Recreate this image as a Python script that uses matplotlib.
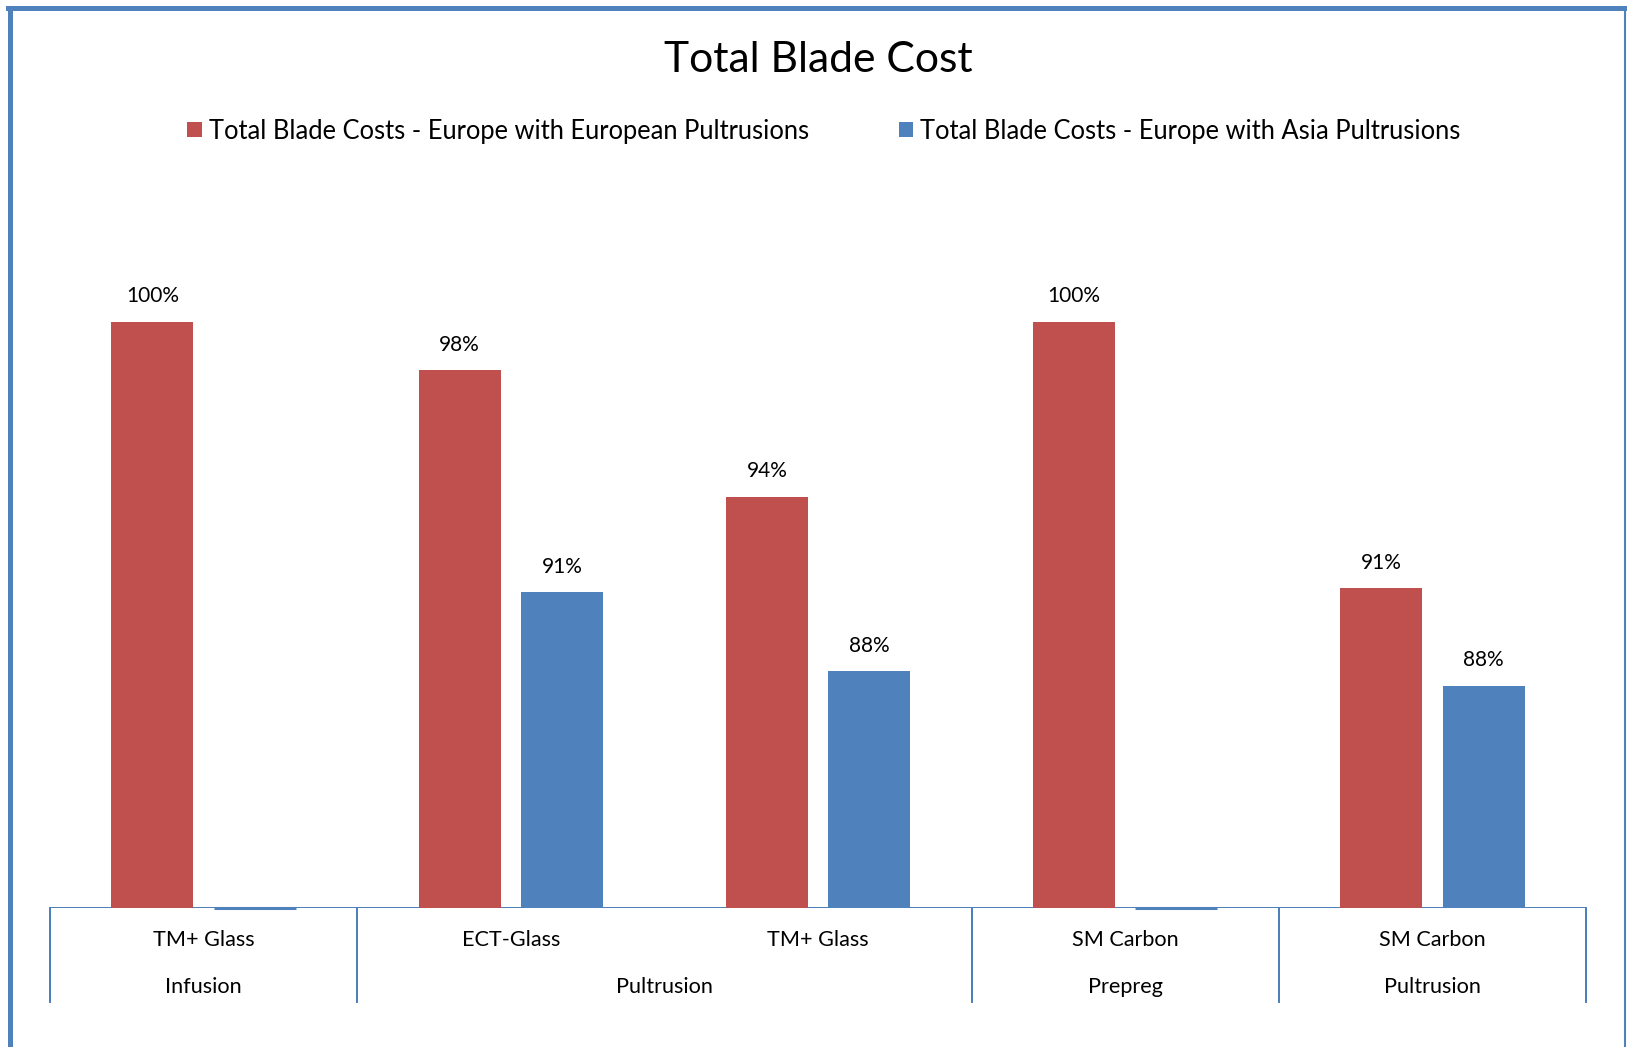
import matplotlib
matplotlib.use("Agg")
import matplotlib.pyplot as plt
from matplotlib.patches import Patch
from matplotlib.lines import Line2D
import numpy as np

categories = ["TM+ Glass", "ECT-Glass", "TM+ Glass", "SM Carbon", "SM Carbon"]
groups = ["Infusion", "Pultrusion", "Prepreg", "Pultrusion"]
group_spans = [(0, 0), (1, 2), (3, 3), (4, 4)]
series_names = ["Total Blade Costs - Europe with European Pultrusions",
                "Total Blade Costs - Europe with Asia Pultrusions"]
europe = [100.0, 98.35, 94.03, 100.0, 90.91]
asia = [0.0, 90.77, 88.08, 0.0, 87.58]

RED = "#C0504D"
BLUE = "#4F81BD"
AX_BLUE = "#4A7EBB"
FONT = ["Lato", "DejaVu Sans"]
plt.rcParams["font.family"] = FONT

W, H, DPI = 1627, 1047, 100
fig = plt.figure(figsize=(W / DPI, H / DPI), dpi=DPI)

ymin, ymax = 80, 105
base_px, top_px = 908, 908 - 25 * 29.3
left_px, right_px = 50, 1586
ax = fig.add_axes([left_px / W, 1 - base_px / H, (right_px - left_px) / W, (base_px - top_px) / H])
ax.set_xlim(-0.5, len(categories) - 0.5)
ax.set_ylim(ymin, ymax)
for s in ax.spines.values():
    s.set_visible(False)
ax.set_xticks([])
ax.set_yticks([])

x = np.arange(len(categories))
bw = 0.267
off = 0.1665
for i, (v, color) in enumerate([(europe, RED), (asia, BLUE)]):
    xs = x + (-off if i == 0 else off)
    for xi, val in zip(xs, v):
        h = max(val - ymin, 0)
        if h > 0:
            ax.bar(xi, h, bottom=ymin, width=bw, color=color, linewidth=0, zorder=2)
            ax.annotate(f"{val:.0f}%", (xi, val), xytext=(0, 18.5), textcoords="offset points",
                        ha="center", va="center", fontsize=15, color="black")
        else:
            ax.plot([xi - bw / 2, xi + bw / 2], [ymin, ymin], color=color, lw=2.2,
                    solid_capstyle="butt", clip_on=False, zorder=3)

# category axis
ax.axhline(ymin, color=AX_BLUE, lw=1.4, zorder=1)
xt = ax.get_xaxis_transform()
tick_bottom = (base_px - 1002) / (base_px - top_px)
lab1_y = (base_px - 940) / (base_px - top_px)
lab2_y = (base_px - 987) / (base_px - top_px)
for xi, c in zip(x, categories):
    ax.text(xi, lab1_y, c, transform=xt, ha="center", va="center", fontsize=15.6)
bounds = [-0.5]
for g, (a, b) in zip(groups, group_spans):
    ax.text((a + b) / 2, lab2_y, g, transform=xt, ha="center", va="center", fontsize=15.6)
    bounds.append(b + 0.5)
for bx in bounds:
    ax.plot([bx, bx], [0, tick_bottom], transform=xt, color=AX_BLUE, lw=1.4, clip_on=False)

fig.text(818 / W, 1 - 60 / H, "Total Blade Cost", ha="center", va="center", fontsize=30.7)

handles = [Patch(facecolor=RED, edgecolor="none"), Patch(facecolor=BLUE, edgecolor="none")]
fig.legend(handles, series_names, loc="center", bbox_to_anchor=(824 / W, 1 - 131 / H), ncol=2,
           frameon=False, fontsize=18.4, handlelength=0.57, handleheight=0.57, handletextpad=0.28,
           columnspacing=3.5)

# chart border
fig.add_artist(Line2D([9.5 / W, 9.5 / W], [0, 1 - 7.5 / H], color=BLUE, lw=3.6, transform=fig.transFigure))
fig.add_artist(Line2D([7.5 / W, 1625 / W], [1 - 7.5 / H, 1 - 7.5 / H], color=BLUE, lw=3.6, transform=fig.transFigure))
fig.add_artist(Line2D([1625 / W, 1625 / W], [0, 1 - 7.5 / H], color=BLUE, lw=1.5, transform=fig.transFigure))

fig.savefig("out.png", dpi=DPI)
